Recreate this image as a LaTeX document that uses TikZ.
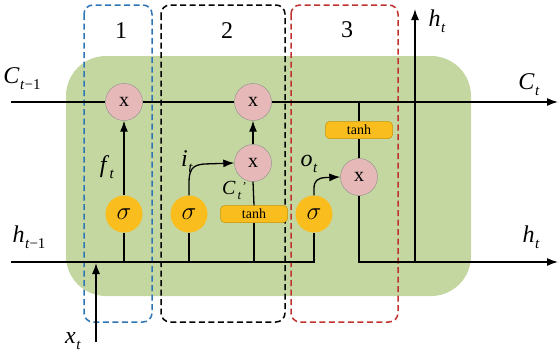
\documentclass[tikz,border=0pt]{standalone}
\usepackage{fontspec}
\setmainfont{Liberation Serif}
\usetikzlibrary{arrows.meta}
\definecolor{greenc}{HTML}{C4D7A0}
\definecolor{pinkc}{HTML}{E6B9B8}
\definecolor{orangec}{HTML}{F9BD1E}
\definecolor{orangeb}{HTML}{C99200}
\definecolor{blued}{HTML}{2E75B6}
\definecolor{redd}{HTML}{C0322E}
\newcommand\lbsub[2]{\textit{#1}\kern0.5pt\raisebox{-6pt}{\fontsize{15}{15}\selectfont #2}}
\begin{document}
\begin{tikzpicture}[x=1pt,y=-1pt,
 mult/.style={circle,draw=black!45,line width=0.4pt,fill=pinkc,minimum size=37pt,inner sep=0pt,font=\fontsize{20}{20}\selectfont},
 sig/.style={circle,fill=orangec,minimum size=37pt,inner sep=0pt,font=\fontsize{27}{27}\selectfont},
 tanhbox/.style={rounded corners=4pt,draw=orangeb,line width=0.5pt,fill=orangec,minimum width=67pt,minimum height=17pt,inner sep=0pt,font=\fontsize{14}{14}\selectfont},
 ln/.style={line width=1.3pt,black},
 arr/.style={ln,-{Latex[length=11pt,width=8pt]}},
 lbl/.style={font=\fontsize{24}{24}\selectfont},
 num/.style={font=\fontsize{24}{24}\selectfont},
 gbox/.style={line width=1.5pt,rounded corners=9pt,dash pattern=on 6pt off 3.5pt}
]
\useasboundingbox (0,0) rectangle (558,357);
\fill[greenc, rounded corners=40pt] (66,56) rectangle (471,296);

\draw[gbox,blued] (84,5) rectangle (152,322);
\draw[gbox,black] (161,5) rectangle (285,322);
\draw[gbox,redd] (291,5) rectangle (398,322);
\node[num] (n1) at (121,31) {1};
\node[num] (n2) at (227,31) {2};
\node[num] (n3) at (347,30) {3};

\node[mult] (m1) at (124,102) {x};
\node[mult] (m2) at (253,102) {x};
\node[mult] (m3) at (253,163) {x};
\node[mult] (m4) at (359,177) {x};
\node[sig] (s1) at (124,214) {$\sigma$};
\node[sig] (s2) at (189,214) {$\sigma$};
\node[sig] (s3) at (314,214) {$\sigma$};
\node[tanhbox] (t1) at (254,214) {tanh};
\node[tanhbox] (t2) at (359,130) {tanh};

\coordinate (cl) at (11,102);
\coordinate (cr) at (558,102);
\coordinate (cj) at (359,102);
\coordinate (hl) at (11,262);
\coordinate (hj) at (314,262);
\coordinate (ho) at (359,262);
\coordinate (hr) at (558,262);
\coordinate (hv) at (415,262);
\coordinate (ht) at (415,9);
\coordinate (xb) at (96,342);
\coordinate (xt) at (96,263);

% cell state line
\draw[ln] (cl) -- (m1.west);
\draw[ln] (m1.east) -- (m2.west);
\draw[arr] (m2.east) -- (cr);
\draw[ln] (cj) -- (t2.north);
\draw[ln] (t2.south) -- (m4.north);

% hidden line
\draw[ln] (hl) -- (hj) -- (s3.south);
\draw[ln] (s1.south) -- (s1.south |- hl);
\draw[ln] (s2.south) -- (s2.south |- hl);
\draw[ln] (t1.south) -- (t1.south |- hl);
\draw[arr] (m4.south) -- (ho) -- (hr);
\draw[arr] (hv) -- (ht);
\draw[arr] (xb) -- (xt);

% gates
\draw[arr] (s1.north) -- (m1.south);
\draw[ln] (t1.north) -- (m3.south);
\draw[arr] (m3.north) -- (m2.south);
\draw[arr] (s2.north) -- (189,183) .. controls (189,170) and (192,165) .. (204,164) -- (m3.west);
\draw[arr] (s3.north) -- (314,189) .. controls (314,181) and (317,178) .. (326,177.5) -- (m4.west);

% labels
\node[lbl] (lc0) at (22,79) {\lbsub{C}{\textit{t}−1}};
\node[lbl] (lc1) at (529,85) {\lbsub{C}{\textit{t}}};
\node[lbl] (lh0) at (29,237) {\lbsub{h}{\textit{t}−1}};
\node[lbl] (lh1) at (531,237) {\lbsub{h}{\textit{t}}};
\node[lbl] (lh2) at (437,21) {\lbsub{h}{\textit{t}}};
\node[lbl] (lx) at (73,341) {\lbsub{x}{\textit{t}}};
\node[lbl] (lf) at (107,167) {\lbsub{f}{\textit{t}}};
\node[lbl] (li) at (187,162) {\lbsub{i}{\textit{t}}};
\node[lbl] (lo) at (309,164) {\lbsub{o}{\textit{t}}};
\node[font=\fontsize{20}{20}\selectfont,inner sep=0pt] (lcp) at (234,190) {\textit{C}\kern2pt\raisebox{-5pt}{\fontsize{13}{13}\selectfont\textit{t}}\kern0.5pt\raisebox{4pt}{\fontsize{12}{12}\selectfont\textit{'}}};
\end{tikzpicture}
\end{document}
